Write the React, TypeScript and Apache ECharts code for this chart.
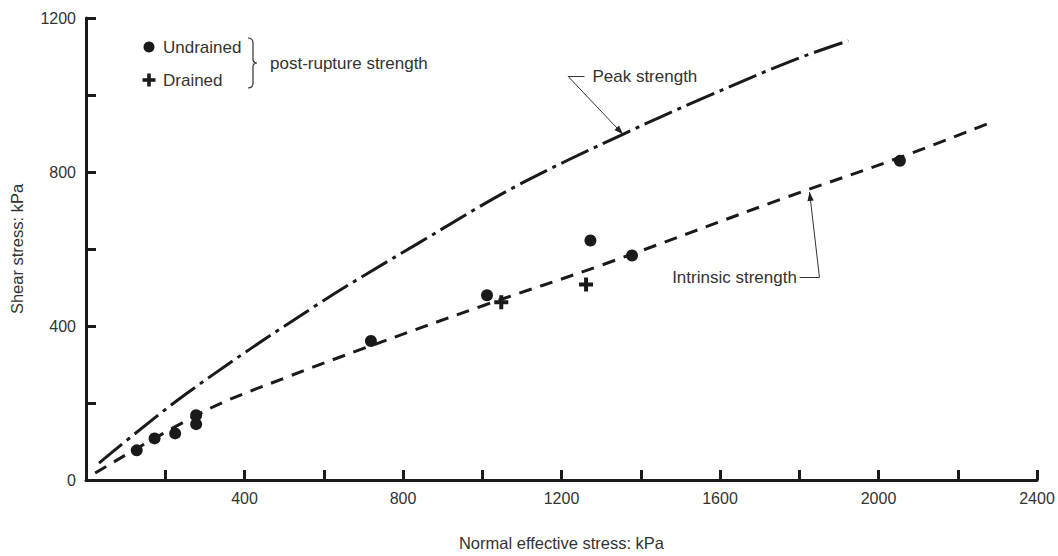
import React, { useEffect, useRef } from "react";
import * as echarts from "echarts";

// ---- data ----
const undrainedX = [128, 173, 225, 278, 278, 719, 1012, 1273, 1378, 2054];
const undrainedY = [77, 108, 121, 168, 145, 361, 480, 622, 583, 829];
const drainedX = [1048, 1262];
const drainedY = [462, 508];
const peakX = [33, 253, 586, 837, 1087, 1355, 1556, 1789, 1924];
const peakY = [44, 224, 457, 614, 764, 898, 991, 1092, 1141];
const intrinsicX = [23, 303, 504, 704, 1005, 1298, 1756, 2057, 2277];
const intrinsicY = [18, 181, 266, 343, 454, 557, 730, 839, 926];
const xTickLabels = [400, 800, 1200, 1600, 2000, 2400];
const yTickLabels = [0, 400, 800, 1200];

// annotation anchors in data coordinates
const peakTip = [1355, 898];
const peakCorner = [1217, 1048];
const peakLabelEnd = [1258, 1048];
const peakLabelPos = [1278, 1048];
const intrTip = [1826, 748];
const intrCorner = [1851, 526];
const intrLabelEnd = [1801, 526];
const intrLabelPos = [1794, 526];

const FONT = "Liberation Sans, Arial, sans-serif";
const INK = "#1a1a1a";
const TXT = "#333333";
const PLUS = "path://M5,0 H9 V5 H14 V9 H9 V14 H5 V9 H0 V5 H5 Z";

const zip = (xs: number[], ys: number[]) => xs.map((x, i) => [x, ys[i]]);

export default function App() {
  const ref = useRef<HTMLDivElement>(null);
  useEffect(() => {
    if (!ref.current) return;
    const chart = echarts.init(ref.current, null, { renderer: "svg" });
    const braceD = "M0,0 Q5,0 5,5 L5,21 Q5,25 9,25 Q5,25 5,29 L5,45 Q5,50 0,50";
    echarts.graphic.registerShape("brace", echarts.graphic.extendPath(braceD, {}));

    const axisCommon = {
      axisLine: { show: true, lineStyle: { color: INK, width: 3 } },
      axisTick: { show: true, inside: true, length: 10, lineStyle: { color: INK, width: 3 } },
      splitLine: { show: false },
      nameTextStyle: { color: TXT, fontFamily: FONT, fontSize: 16.5 },
    };

    chart.setOption({
      animation: false,
      backgroundColor: "#ffffff",
      grid: { left: 79, right: 21, top: 18, bottom: 73 },
      xAxis: {
        type: "value",
        min: 0,
        max: 2400,
        interval: 200,
        name: "Normal effective stress: kPa",
        nameLocation: "middle",
        nameGap: 54,
        ...axisCommon,
        axisLabel: {
          color: TXT,
          fontFamily: FONT,
          fontSize: 16,
          margin: 10,
          showMinLabel: true,
          showMaxLabel: true,
          formatter: (v: number) => (xTickLabels.includes(v) ? String(v) : ""),
        },
      },
      yAxis: {
        type: "value",
        min: 0,
        max: 1200,
        interval: 200,
        name: "Shear stress: kPa",
        nameLocation: "middle",
        nameGap: 61,
        ...axisCommon,
        axisLabel: {
          color: TXT,
          fontFamily: FONT,
          fontSize: 16,
          margin: 10,
          showMinLabel: true,
          showMaxLabel: true,
          formatter: (v: number) => (yTickLabels.includes(v) ? String(v) : ""),
        },
      },
      series: [
        {
          name: "Peak strength",
          type: "line",
          data: zip(peakX, peakY),
          smooth: 0.35,
          showSymbol: false,
          lineStyle: { color: INK, width: 3, type: [30, 6, 4, 6] },
        },
        {
          name: "Intrinsic strength",
          type: "line",
          data: zip(intrinsicX, intrinsicY),
          smooth: 0.35,
          showSymbol: false,
          lineStyle: { color: INK, width: 3, type: [13, 9] },
        },
        {
          name: "Undrained",
          type: "scatter",
          data: zip(undrainedX, undrainedY),
          symbol: "circle",
          symbolSize: 12,
          itemStyle: { color: INK, opacity: 1 },
        },
        {
          name: "Drained",
          type: "scatter",
          data: zip(drainedX, drainedY),
          symbol: PLUS,
          symbolSize: 14,
          itemStyle: { color: INK, opacity: 1 },
        },
      ],
    });

    const px = (p: number[]) => chart.convertToPixel({ gridIndex: 0 }, p) as number[];
    const arrowHead = (tip: number[], from: number[]) => {
      const dx = tip[0] - from[0];
      const dy = tip[1] - from[1];
      const len = Math.hypot(dx, dy) || 1;
      const ux = dx / len, uy = dy / len;
      const L = 9, W = 3.2;
      return [
        [tip[0], tip[1]],
        [tip[0] - ux * L - uy * W, tip[1] - uy * L + ux * W],
        [tip[0] - ux * L + uy * W, tip[1] - uy * L - ux * W],
      ];
    };

    const pT = px(peakTip), pC = px(peakCorner), pE = px(peakLabelEnd), pL = px(peakLabelPos);
    const iT = px(intrTip), iC = px(intrCorner), iE = px(intrLabelEnd), iL = px(intrLabelPos);
    const thin = { stroke: "#333", lineWidth: 1, fill: null };
    const txt = (x: number, y: number, text: string, align: string = "left") => ({
      type: "text",
      x,
      y,
      style: { text, fill: TXT, font: `17px ${FONT}`, textAlign: align, textVerticalAlign: "middle" },
    });

    chart.setOption({
      graphic: [
        // legend
        { type: "circle", shape: { cx: 149, cy: 47, r: 5.5 }, style: { fill: INK } },
        { type: "rect", shape: { x: 142.5, y: 78.2, width: 13, height: 3.6 }, style: { fill: INK } },
        { type: "rect", shape: { x: 147.2, y: 73.5, width: 3.6, height: 13 }, style: { fill: INK } },
        txt(163, 47, "Undrained"),
        txt(163, 80, "Drained"),
        { type: "brace", x: 248, y: 38, style: { stroke: "#333", lineWidth: 1.2, fill: null } },
        txt(270, 63, "post-rupture strength"),
        // peak strength annotation
        { type: "polyline", shape: { points: [pE, pC, pT] }, style: thin },
        { type: "polygon", shape: { points: arrowHead(pT, pC) }, style: { fill: "#222" } },
        txt(pL[0], pL[1], "Peak strength"),
        // intrinsic strength annotation
        { type: "polyline", shape: { points: [iE, iC, iT] }, style: thin },
        { type: "polygon", shape: { points: arrowHead(iT, iC) }, style: { fill: "#222" } },
        txt(iL[0], iL[1], "Intrinsic strength", "right"),
      ],
    });

    return () => chart.dispose();
  }, []);

  return (
    <div
      ref={ref}
      style={{ position: "fixed", left: 0, top: 0, width: 1058, height: 556, background: "#fff" }}
    />
  );
}
